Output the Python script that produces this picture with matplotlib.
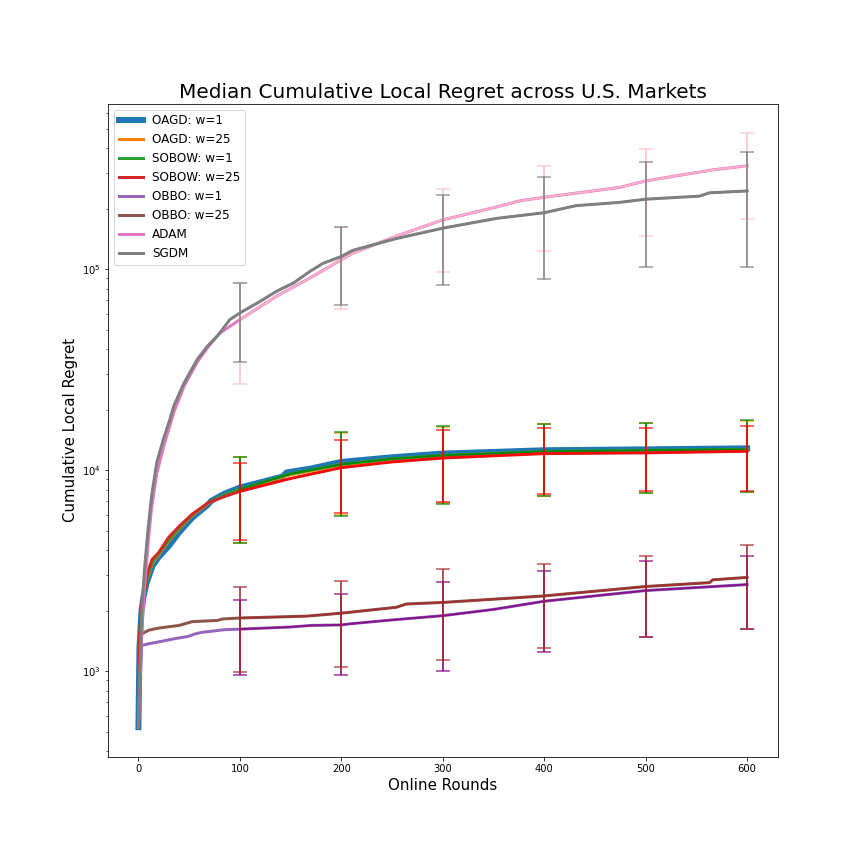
import matplotlib
matplotlib.use("Agg")
import matplotlib.pyplot as plt
import numpy as np

# ---------------------------------------------------------------------------
# Median cumulative local regret
# ---------------------------------------------------------------------------
oagd1_x = [0, 1, 3, 5, 8, 14, 20, 30, 40, 53, 68, 72, 85, 100, 120, 142, 146, 170, 200, 250, 300, 400, 500, 600]
oagd1_y = [527, 1300, 2000, 2350, 2750, 3350, 3700, 4200, 4900, 5800, 6700, 7050, 7650, 8200, 8700,
           9300, 9750, 10200, 11000, 11600, 12100, 12570, 12700, 12850]

oagd25_x = [0, 1, 3, 5, 8, 14, 20, 30, 40, 53, 70, 85, 100, 150, 200, 250, 300, 400, 500, 600]
oagd25_y = [527, 1350, 2050, 2400, 2850, 3450, 3800, 4450, 5100, 5950, 6900, 7500, 8000, 9500,
            10600, 11300, 11800, 12300, 12450, 12600]

sobow1_x = [0, 1, 3, 5, 8, 14, 20, 30, 40, 53, 70, 85, 100, 150, 200, 250, 300, 400, 500, 600]
sobow1_y = [527, 1350, 2050, 2400, 2900, 3500, 3850, 4500, 5150, 6000, 6950, 7550, 8050, 9600,
            10700, 11400, 11850, 12400, 12550, 12700]

sobow25_x = [0, 1, 3, 5, 7, 8.5, 13.5, 18, 20, 30, 40, 53, 69, 85, 100, 150, 200, 250, 300, 400, 500, 600]
sobow25_y = [527, 1400, 2100, 2450, 2600, 3050, 3600, 3800, 3900, 4650, 5250, 6050, 6900, 7400, 7850,
             9100, 10300, 11000, 11500, 12100, 12200, 12430]

obbo1_x = [0, 2, 3, 10, 20, 35, 49, 55, 62, 85, 100, 150, 170, 200, 208, 250, 300, 350, 400, 500, 600]
obbo1_y = [527, 1000, 1343, 1370, 1400, 1450, 1490, 1530, 1560, 1610, 1620, 1660, 1690, 1700, 1720,
           1800, 1890, 2030, 2230, 2520, 2700]

obbo25_x = [0, 2, 3, 10, 20, 40, 53, 78, 83, 100, 166, 200, 254, 264, 300, 372, 400, 500, 563, 566, 600]
obbo25_y = [527, 1100, 1530, 1600, 1640, 1690, 1765, 1790, 1820, 1840, 1880, 1945, 2080, 2160, 2200,
            2320, 2370, 2640, 2760, 2850, 2930]

adam_x = [0, 2, 4, 7, 10, 13, 18, 25, 35, 45, 58, 68, 80, 100, 136, 169, 200, 211, 254, 300, 353,
          376, 400, 474, 500, 566, 600]
adam_y = [527, 1100, 1900, 3000, 4600, 6500, 9600, 13200, 19500, 26200, 34500, 40600, 48000, 56100,
          73300, 90400, 111400, 120000, 146000, 176000, 204000, 219000, 228000, 255000, 275000,
          312000, 327000]

sgdm_x = [0, 2, 3.6, 6, 9.5, 13, 18, 25, 31, 35, 45, 58, 68, 79, 90, 100, 120, 136, 153, 169, 182,
          200, 211, 254, 300, 353, 400, 431, 474, 500, 553, 563, 600]
sgdm_y = [527, 1250, 2120, 3230, 5100, 7450, 10900, 14500, 17900, 21000, 27200, 35600, 41400, 47300,
          56100, 60600, 69200, 77600, 85500, 97500, 107000, 115700, 124000, 142000, 160000, 179000,
          191000, 207000, 215000, 223000, 231000, 240000, 245000]

# error bars (lower / upper ends) every 100 rounds
err_rounds = [100, 200, 300, 400, 500, 600]
oagd25_lo = [4350, 6000, 6850, 7480, 7720, 7780]
oagd25_hi = [11600, 15400, 16450, 16950, 17150, 17600]
sobow1_lo = [4330, 5910, 6760, 7430, 7690, 7750]
sobow1_hi = [11700, 15560, 16600, 17060, 17250, 17700]
sobow25_lo = [4480, 6120, 6960, 7600, 7840, 7890]
sobow25_hi = [10920, 14200, 15800, 16300, 16300, 16670]
obbo1_lo = [961, 960, 1000, 1250, 1480, 1620]
obbo1_hi = [2260, 2420, 2770, 3140, 3520, 3730]
obbo25_lo = [991, 1050, 1137, 1300, 1480, 1620]
obbo25_hi = [2610, 2800, 3210, 3400, 3730, 4230]
adam_lo = [26700, 63500, 96800, 122500, 146200, 177500]
adam_hi = [85700, 162600, 250000, 325000, 395000, 474000]
sgdm_lo = [34600, 66100, 83800, 89400, 102900, 102900]
sgdm_hi = [85700, 162600, 233000, 289000, 340000, 382000]

# label, x, y, line colour, line width, error colour, error lo, error hi
SERIES = [
    ("OAGD: w=1", oagd1_x, oagd1_y, "tab:blue", 6, None, None, None),
    ("OAGD: w=25", oagd25_x, oagd25_y, "tab:orange", 3, "orange", oagd25_lo, oagd25_hi),
    ("SOBOW: w=1", sobow1_x, sobow1_y, "tab:green", 3, "green", sobow1_lo, sobow1_hi),
    ("SOBOW: w=25", sobow25_x, sobow25_y, "tab:red", 3, "red", sobow25_lo, sobow25_hi),
    ("OBBO: w=1", obbo1_x, obbo1_y, "tab:purple", 3, "purple", obbo1_lo, obbo1_hi),
    ("OBBO: w=25", obbo25_x, obbo25_y, "tab:brown", 3, "brown", obbo25_lo, obbo25_hi),
    ("ADAM", adam_x, adam_y, "tab:pink", 3, "pink", adam_lo, adam_hi),
    ("SGDM", sgdm_x, sgdm_y, "tab:gray", 3, "grey", sgdm_lo, sgdm_hi),
]

fig, ax = plt.subplots(figsize=(12, 12), dpi=72)
fig.subplots_adjust(left=0.125, right=0.9, bottom=0.124, top=0.88)

for label, xs, ys, color, lw, ecolor, lo, hi in SERIES:
    xs = np.asarray(xs, dtype=float)
    ys = np.asarray(ys, dtype=float)
    ax.plot(xs, ys, color=color, linewidth=lw, label=label)
    if ecolor is None:
        continue
    # thin overlay of the tail (from round 100 on) in the error-bar colour
    tail = xs >= 100
    ax.plot(xs[tail], ys[tail], color=ecolor, linewidth=2, alpha=0.8)
    lo = np.asarray(lo, dtype=float)
    hi = np.asarray(hi, dtype=float)
    ax.errorbar(err_rounds, (lo + hi) / 2, yerr=(hi - lo) / 2, fmt="none",
                ecolor=ecolor, elinewidth=2, capsize=7, capthick=1.5, alpha=0.8)

ax.set_yscale("log")
ax.set_xticks([0, 100, 200, 300, 400, 500, 600])
ax.set_title("Median Cumulative Local Regret across U.S. Markets", fontsize=20)
ax.set_xlabel("Online Rounds", fontsize=15)
ax.set_ylabel("Cumulative Local Regret", fontsize=15)
ax.legend(loc="upper left", fontsize=12)

plt.savefig("out.png", dpi=72)
plt.close()
